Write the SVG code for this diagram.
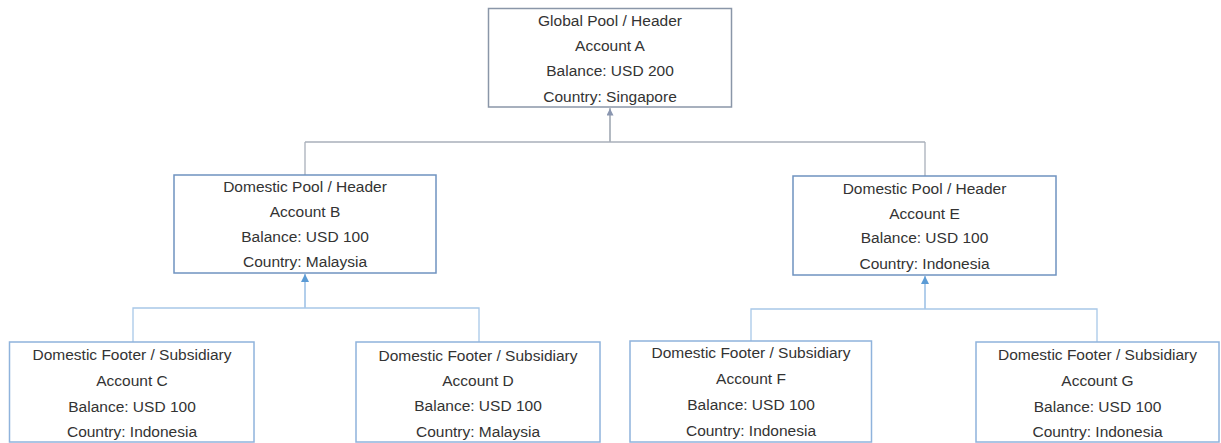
<svg xmlns="http://www.w3.org/2000/svg" width="1221" height="443" viewBox="0 0 1221 443">
<style>
text{font-family:"Liberation Sans",Arial,sans-serif;font-size:15.5px;fill:#333;text-anchor:middle}
.top{fill:#fff;stroke:#8a96a8;stroke-width:1.5}
.mid{fill:#fff;stroke:#6f93c0;stroke-width:1.5}
.low{fill:#fff;stroke:#8fb3dc;stroke-width:1.5}
.cg{fill:none;stroke:#a9b0ba;stroke-width:1.3}
.cb{fill:none;stroke:#a8c8e8;stroke-width:1.3}
</style>
<defs>
<marker id="ag" viewBox="0 0 10 10" refX="5" refY="0" markerWidth="7" markerHeight="8" orient="0" markerUnits="userSpaceOnUse"><path d="M0,10 L5,0 L10,10 Z" fill="#8a96b0"/></marker>
<marker id="ab" viewBox="0 0 10 10" refX="5" refY="0" markerWidth="8" markerHeight="9" orient="0" markerUnits="userSpaceOnUse"><path d="M0,10 L5,0 L10,10 Z" fill="#5b9bd5"/></marker>
</defs>
<g id="connectors">
<path class="cg" d="M610,108 V142 M305,142 H925 M305,142 V175 M925,142 V176"/>
<path class="cg" d="M610,142 V108.5" marker-end="url(#ag)"/>
<path class="cb" d="M133,342 V308 H479 V342 M305,308 V274"/>
<path class="cb" d="M305,308 V274" marker-end="url(#ab)"/>
<path class="cb" d="M751,341 V309 H1097 V342 M925,309 V276"/>
<path class="cb" d="M925,309 V276" marker-end="url(#ab)"/>
</g>
<g id="nodeA">
<rect class="top" x="488.5" y="8.5" width="243" height="98.5"/>
<text x="610" y="25.5">Global Pool / Header</text>
<text x="610" y="50.5">Account A</text>
<text x="610" y="76">Balance: USD 200</text>
<text x="610" y="102">Country: Singapore</text>
</g>
<g id="nodeB">
<rect class="mid" x="174" y="175" width="262" height="98"/>
<text x="305" y="192">Domestic Pool / Header</text>
<text x="305" y="217">Account B</text>
<text x="305" y="242">Balance: USD 100</text>
<text x="305" y="267">Country: Malaysia</text>
</g>
<g id="nodeE">
<rect class="mid" x="793" y="176" width="263" height="99"/>
<text x="924.5" y="193.5">Domestic Pool / Header</text>
<text x="924.5" y="218.5">Account E</text>
<text x="924.5" y="243">Balance: USD 100</text>
<text x="924.5" y="268.5">Country: Indonesia</text>
</g>
<g id="nodeC">
<rect class="low" x="9.5" y="342" width="244.5" height="100"/>
<text x="132" y="359.5">Domestic Footer / Subsidiary</text>
<text x="132" y="386">Account C</text>
<text x="132" y="411.5">Balance: USD 100</text>
<text x="132" y="436.5">Country: Indonesia</text>
</g>
<g id="nodeD">
<rect class="low" x="356" y="342" width="244" height="100"/>
<text x="478" y="360.5">Domestic Footer / Subsidiary</text>
<text x="478" y="385.5">Account D</text>
<text x="478" y="410.5">Balance: USD 100</text>
<text x="478" y="437">Country: Malaysia</text>
</g>
<g id="nodeF">
<rect class="low" x="630" y="341" width="241.5" height="101"/>
<text x="751" y="358">Domestic Footer / Subsidiary</text>
<text x="751" y="384">Account F</text>
<text x="751" y="410">Balance: USD 100</text>
<text x="751" y="436">Country: Indonesia</text>
</g>
<g id="nodeG">
<rect class="low" x="976" y="342" width="243" height="100"/>
<text x="1097.5" y="359.5">Domestic Footer / Subsidiary</text>
<text x="1097.5" y="386">Account G</text>
<text x="1097.5" y="411.5">Balance: USD 100</text>
<text x="1097.5" y="436.5">Country: Indonesia</text>
</g>
</svg>
